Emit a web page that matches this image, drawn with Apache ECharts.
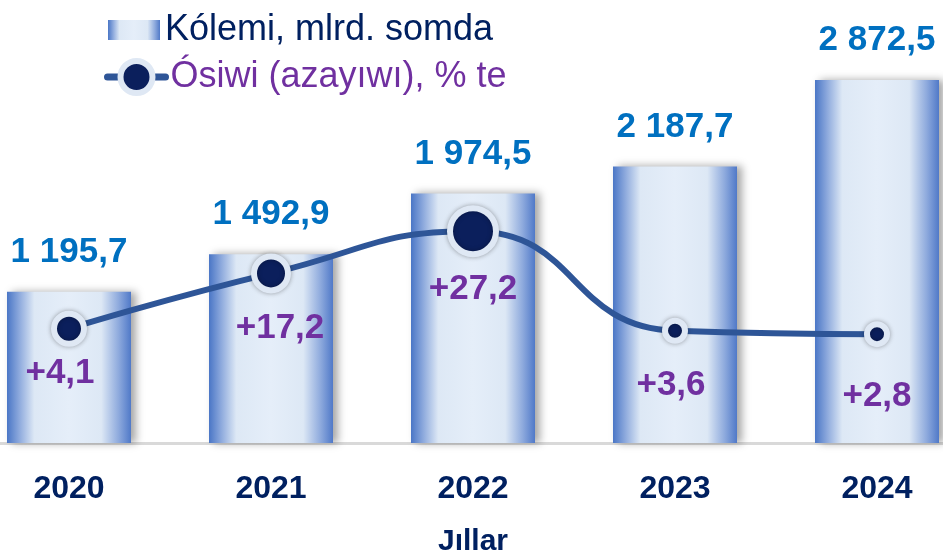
<!DOCTYPE html>
<html>
<head>
<meta charset="utf-8">
<title>Kólemi hám ósiwi</title>
<script src="https://cdn.jsdelivr.net/npm/echarts@6/dist/echarts.min.js"></script>
<style>
  html, body { margin: 0; padding: 0; background: #fff; overflow: hidden; width: 943px; height: 556px; position: relative; }
  /* the first and last bars touch the edges, so the canvas is a bit wider than the window */
  #chart { position: absolute; left: -32px; top: 0; width: 1010px; height: 556px; }
</style>
</head>
<body>
<div id="chart"></div>
<script>
// data
const years = ["2020", "2021", "2022", "2023", "2024"];
const volume = [1195.7, 1492.9, 1974.5, 2187.7, 2872.5];
const growth = [4.1, 17.2, 27.2, 3.6, 2.8];

// styling per point (not data)
const dotSizes = [30, 34, 46, 20, 20];
const pctOffsets = [[-9, 45], [9, 55], [0, 58], [-4, 55], [0, 62]];

const FONT = '"Liberation Sans", Arial, sans-serif';
const SHIFT = 32;

const barGradient = new echarts.graphic.LinearGradient(0, 0, 1, 0, [
  { offset: 0, color: "#4a76c6" },
  { offset: 0.1, color: "#8eaadd" },
  { offset: 0.22, color: "#dde8f5" },
  { offset: 0.5, color: "#e5eef9" },
  { offset: 0.76, color: "#dde8f5" },
  { offset: 0.9, color: "#8eaadd" },
  { offset: 1, color: "#5079c8" },
]);

const chart = echarts.init(document.getElementById("chart"));

chart.setOption({
  animation: false,
  legend: [
    {
      left: 108 + SHIFT,
      top: 12,
      padding: 0,
      icon: "rect",
      itemWidth: 52,
      itemHeight: 20,
      data: ["Kólemi, mlrd. somda"],
      textStyle: { fontFamily: FONT, fontSize: 36, color: "#002060" },
    },
    {
      left: 104 + SHIFT,
      top: 58,
      padding: 0,
      itemWidth: 58,
      itemHeight: 40,
      data: ["Ósiwi (azayıwı), % te"],
      lineStyle: { width: 7, color: "#2e5597", cap: "round" },
      itemStyle: { color: "#0b1f5c", borderColor: "#dfe8f4", borderWidth: 6 },
      textStyle: { fontFamily: FONT, fontSize: 36, color: "#7030a0" },
    },
  ],
  grid: { left: 0, right: 0, top: 0, bottom: 113, outerBoundsMode: "none", containLabel: false },
  xAxis: {
    type: "category",
    data: years,
    axisLine: { lineStyle: { color: "#d9d9d9", width: 3 } },
    axisTick: { show: false },
    axisLabel: {
      margin: 30,
      fontFamily: FONT,
      fontSize: 32,
      fontWeight: "bold",
      color: "#002060",
    },
    name: "Jıllar",
    nameLocation: "middle",
    nameGap: 84,
    nameTextStyle: { fontFamily: FONT, fontSize: 30, fontWeight: "bold", color: "#002060" },
  },
  yAxis: [
    { type: "value", min: 0, max: 3505, show: false },
    { type: "value", min: -23, max: 82, show: false },
  ],
  series: [
    {
      name: "Kólemi, mlrd. somda",
      type: "bar",
      data: volume,
      barWidth: 124,
      itemStyle: {
        color: barGradient,
        shadowColor: "rgba(0,0,0,0.35)",
        shadowBlur: 8,
        shadowOffsetX: 5,
        shadowOffsetY: 0,
      },
      label: {
        show: true,
        position: "top",
        distance: 22,
        fontFamily: FONT,
        fontSize: 35,
        fontWeight: "bold",
        color: "#0070c0",
        formatter: (p) => {
          const [i, d] = p.value.toFixed(1).split(".");
          return i.replace(/\B(?=(\d{3})+(?!\d))/g, " ") + "," + d;
        },
      },
      z: 2,
    },
    {
      name: "Ósiwi (azayıwı), % te",
      type: "line",
      yAxisIndex: 1,
      smooth: 0.5,
      symbol: "circle",
      symbolSize: 24,
      data: growth.map((v, i) => ({
        value: v,
        symbolSize: dotSizes[i],
        label: { offset: pctOffsets[i] },
      })),
      lineStyle: { color: "#2e5597", width: 6 },
      itemStyle: {
        color: "#0b1f5c",
        borderColor: "#dfe8f4",
        borderWidth: 6,
        shadowColor: "rgba(0,0,0,0.3)",
        shadowBlur: 5,
      },
      label: {
        show: true,
        position: "inside",
        fontFamily: FONT,
        fontSize: 35,
        fontWeight: "bold",
        color: "#7030a0",
        formatter: (p) => "+" + p.value.toFixed(1).replace(".", ","),
      },
      z: 5,
    },
  ],
});
</script>
</body>
</html>
